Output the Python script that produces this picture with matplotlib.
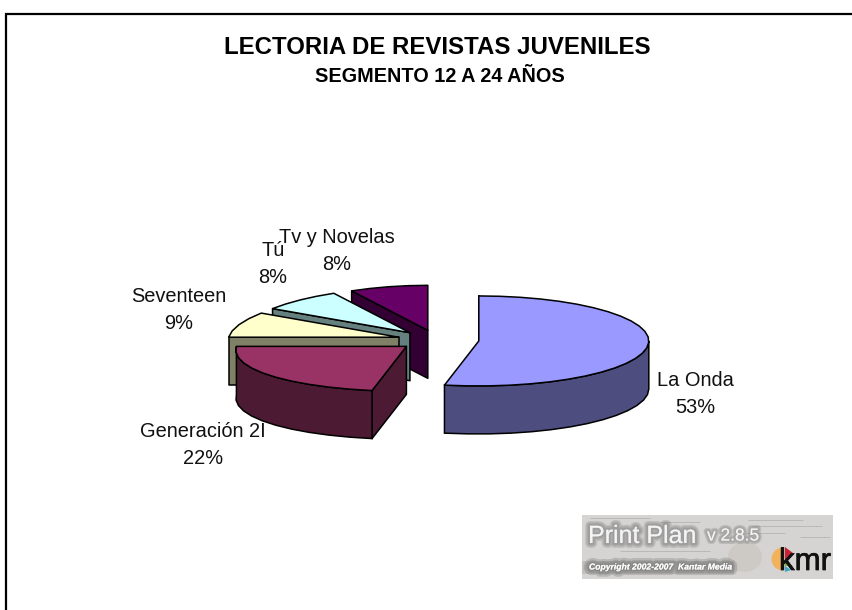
"""
  exploded 3d style pie, magazine readership 12 to 24 years
"""

import numpy as np
import matplotlib
matplotlib.use("Agg")
import matplotlib.pyplot as plt
import matplotlib.patheffects as pe
from matplotlib.patches import Ellipse, Polygon, Rectangle, Wedge

names = ["La Onda", "Generación 2I", "Seventeen", "Tú", "Tv y Novelas"]
shares = [53, 22, 9, 8, 8]

top_colors = ["#9999ff", "#993366", "#ffffcc", "#ccffff", "#660066"]
side_colors = ["#4d4d80", "#4d1a33", "#808066", "#668080", "#330033"]

label_pos = [(695, 394), (203, 445), (179, 310), (273, 264), (337, 251)]

plt.rcParams["font.family"] = ["Liberation Sans", "DejaVu Sans"]

# pie geometry in pixels
cx, cy = 438, 340
rx, ry = 170, 45
depth = 48
explode_x, explode_y = 41, 10


def point(center, ang):
    a = np.radians(ang)
    # left half leans with the perspective of the original
    f = 1 - 0.08*np.cos(a) if np.sin(a) < 0 else 1
    return (center[0] + f*rx*np.sin(a), center[1] - ry*np.cos(a))


def arc(center, a0, a1):
    # coarse steps give the polygonal outline of the original
    n = max(2, int(abs(a1 - a0)/7) + 1)
    return [point(center, a) for a in np.linspace(a0, a1, n)]


def drop(pts):
    return [(x, y + depth) for x, y in pts]


def drawSlice(ax, a0, a1, top, side):
    mid = np.radians((a0 + a1)/2)
    c = (cx + explode_x*np.sin(mid), cy - explode_y*np.cos(mid))

    # flat side along the first radius
    if a0 >= 180 or a0 == 0:
        face = [c, point(c, a0)]
        face = face + drop(face)[::-1]
        ax.add_patch(Polygon(face, fc=side, ec="black", lw=1.1, joinstyle="round"))

    # curved wall, only the front half shows
    w0, w1 = max(a0, 90), min(a1, 270)
    if w1 > w0:
        rim = arc(c, w0, w1)
        ax.add_patch(Polygon(rim + drop(rim)[::-1], fc=side, ec="black", lw=1.1))

    ax.add_patch(Polygon([c] + arc(c, a0, a1), fc=top, ec="black", lw=1.1,
                         joinstyle="round"))


def softGlow(color, widths, alpha):
    return [pe.withStroke(linewidth=w, foreground=color, alpha=alpha) for w in widths]


def drawLogo(ax):
    x0, y0, w, h = 582, 515, 251, 64
    ax.add_patch(Rectangle((x0, y0), w, h, fc="#d6d4d2", ec="none"))

    # faint print behind the lettering
    for x, y, l in [(748, 520, 55), (752, 526, 70), (745, 533, 40), (800, 537, 30),
                    (590, 518, 60), (620, 551, 90), (660, 522, 40)]:
        ax.plot([x, x + l], [y, y], color="#b4b4b4", lw=0.6, solid_capstyle="butt")
    ax.add_patch(Ellipse((745, 557), 34, 30, fc="#c4bdb5", ec="none", alpha=0.45))
    ax.add_patch(Rectangle((x0, y0 + 46), 152, 13, fc="#9a9a9a", ec="none", alpha=0.35))

    ax.text(588, 536, "Print Plan", fontsize=18, color="#f4f4f4", va="center",
            path_effects=softGlow("#707070", [7, 5, 3], 0.22))
    ax.text(707, 536, "v 2.8.5", fontsize=12.5, color="#f4f4f4", va="center",
            path_effects=softGlow("#707070", [5, 3], 0.25))
    ax.text(589, 567, "Copyright 2002-2007  Kantar Media", fontsize=6.2, color="white",
            weight="bold", style="italic", va="center",
            path_effects=softGlow("#606060", [8, 5, 2], 0.25))

    ax.add_patch(Wedge((783, 559), 11.5, 90, 270, fc="#f2b25c", ec="none"))
    ax.add_patch(Polygon([(785, 547), (793, 553), (785, 560)], fc="#cc2233", ec="none"))
    ax.add_patch(Polygon([(785, 562), (793, 566), (785, 566)], fc="#7fae3a", ec="none"))
    ax.add_patch(Polygon([(785, 566), (791, 570), (785, 572)], fc="#3fa7c9", ec="none"))
    ax.text(779, 570, "kmr", fontsize=22.5, color="#111111", va="baseline",
            path_effects=[pe.withStroke(linewidth=0.5, foreground="#111111")])


###################  main  ###################
fig = plt.figure(figsize=(8.53, 6.10), dpi=100)
ax = fig.add_axes([0, 0, 1, 1])
ax.set_xlim(0, 853)
ax.set_ylim(610, 0)
ax.axis("off")

# outer frame runs off the right and bottom of the picture
ax.plot([6.5, 6.5, 853], [610, 14, 14], color="black", lw=1.6, solid_joinstyle="miter")

ax.text(437, 47, "LECTORIA DE REVISTAS JUVENILES", fontsize=17.3, weight="bold",
        ha="center", va="center")
ax.text(440, 77, "SEGMENTO 12 A 24 AÑOS", fontsize=14.3, weight="bold",
        ha="center", va="center")

ends = 3.6*np.cumsum(shares)
starts = np.concatenate(([0], ends[:-1]))

# back slices first so the front ones cover them
for i in [4, 3, 2, 1, 0]:
    drawSlice(ax, starts[i], ends[i], top_colors[i], side_colors[i])

for i in [3, 4, 2, 1, 0]:
    ax.text(label_pos[i][0], label_pos[i][1], names[i] + "\n" + str(shares[i]) + "%",
            fontsize=14.4, ha="center", va="center", linespacing=1.56, color="#111111")

drawLogo(ax)

fig.savefig("out.png", dpi=100, facecolor="white")
